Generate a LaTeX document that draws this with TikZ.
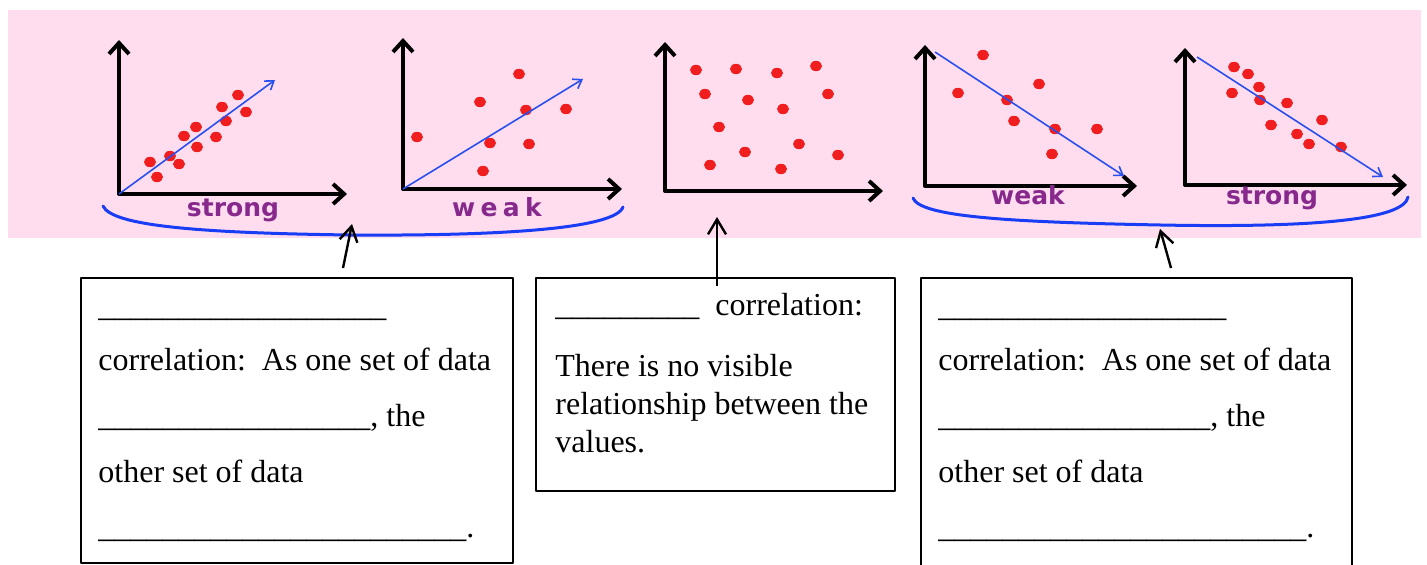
\documentclass[tikz,border=0pt]{standalone}
\usepackage{fontspec}
\setmainfont{Liberation Serif}
\newfontfamily\tagfont{DejaVu Sans}
\usetikzlibrary{arrows.meta}
\definecolor{sheetpink}{RGB}{255,221,238}
\definecolor{dotred}{RGB}{240,30,30}
\definecolor{trendblue}{RGB}{40,80,240}
\definecolor{bracketblue}{RGB}{25,60,245}
\definecolor{tagpurple}{RGB}{135,40,140}
\newcommand{\blanks}[1]{\foreach \k in {1,...,#1}{\_}}

\begin{document}
\begin{tikzpicture}[x=0.5pt, y=-0.5pt, line join=round,
    axis/.style={line width=2pt,
      {Straight Barb[length=5.5pt,width=10pt]}-{Straight Barb[length=5.5pt,width=10pt]}},
    trend/.style={trendblue, line width=0.8pt, -{Straight Barb[length=4pt,width=5.5pt]}},
    dot/.style={fill=dotred},
    bracket/.style={bracketblue, line width=1.5pt, line cap=round},
    pointer/.style={line width=1.2pt, -{Straight Barb[length=7.5pt,width=9pt]}},
    box/.style={draw, line width=1pt, anchor=north west, inner sep=0pt},
    txt/.style={anchor=base west, inner sep=0pt, font=\fontsize{16pt}{19pt}\selectfont},
    tag/.style={anchor=base, inner sep=0pt, text=tagpurple,
      font=\tagfont\bfseries\fontsize{12.5pt}{14pt}\selectfont}]
  \useasboundingbox (0,0) rectangle (1427,565);
  \clip (0,0) rectangle (1427,565);
  % pink strip with the five scatter plots
  \fill[sheetpink] (8,10) rectangle (1421,238);
  % positive, strong
  \draw[axis] (119,40) -- (119,194) -- (347,194);
  \foreach \p in {(238,95),(222,107),(246,112),(226,121),(196,127),(184,136),
                  (216,137),(197,147),(170,156),(150,162),(179,164),(157,177)}
    \fill[dot] \p ellipse [x radius=3pt, y radius=2.6pt];
  \draw[trend] (119,194) -- (275,80);
  \node[tag] (tstrong1) at (233,217) {strong};
  % positive, weak
  \draw[axis] (403,38) -- (403,189) -- (622,189);
  \foreach \p in {(519,74),(480,102),(526,110),(566,109),(417,137),(490,143),
                  (529,144),(483,171)}
    \fill[dot] \p ellipse [x radius=3pt, y radius=2.6pt];
  \draw[trend] (403,189) -- (583,79);
  \node[tag] (tweak1) at (497,217) {w\kern2.7pt e\kern2.7pt a\kern2.7pt k};
  % no correlation
  \draw[axis] (665,42) -- (665,191) -- (883,191);
  \foreach \p in {(696,70),(736,69),(777,73),(816,66),(705,94),(748,100),(783,109),
                  (828,94),(719,127),(799,144),(745,152),(838,155),(710,165),(781,169)}
    \fill[dot] \p ellipse [x radius=3pt, y radius=2.6pt];
  % negative, weak
  \draw[axis] (925,45) -- (925,186) -- (1137,186);
  \foreach \p in {(983,55),(958,93),(1039,84),(1007,100),(1014,121),(1055,129),
                  (1097,129),(1052,154)}
    \fill[dot] \p ellipse [x radius=3pt, y radius=2.6pt];
  \draw[trend] (935,52) -- (1124,176);
  \node[tag] (tweak2) at (1028,205) {weak};
  % negative, strong
  \draw[axis] (1185,48) -- (1185,185) -- (1407,185);
  \foreach \p in {(1234,67),(1248,74),(1259,87),(1232,93),(1260,100),(1287,103),
                  (1322,120),(1271,125),(1297,134),(1309,144),(1341,147)}
    \fill[dot] \p ellipse [x radius=3pt, y radius=2.6pt];
  \draw[trend] (1197,57) -- (1383,177);
  \node[tag] (tstrong2) at (1272,205) {strong};
  % brackets under the pairs
  \draw[bracket] (103,206) .. controls (112,226) and (200,233) .. (350,235)
    .. controls (500,236) and (615,229) .. (623,207);
  \draw[bracket] (913,198) .. controls (920,216) and (1000,222) .. (1160,225)
    .. controls (1320,228) and (1404,219) .. (1408,197);
  % answer boxes
  \node[box, minimum width=216pt, minimum height=142.5pt] (posbox) at (80,277) {};
  \node[box, minimum width=179.5pt, minimum height=106.5pt] (nonebox) at (535,277) {};
  \node[box, minimum width=215.5pt, minimum height=170pt] (negbox) at (920,277) {};
  % pointers
  \coordinate (posdip) at (352,224);
  \coordinate (posfoot) at (343,268);
  \coordinate (nonedip) at (717,217);
  \coordinate (nonefoot) at (717,286);
  \coordinate (negdip) at (1160,229);
  \coordinate (negfoot) at (1171,268);
  \draw[pointer] (posfoot) -- (posdip);
  \draw[pointer] (nonefoot) -- (nonedip);
  \draw[pointer] (negfoot) -- (negdip);
  % box texts
  \node[txt] (pos1) at (98,317) {\blanks{18}};
  \node[txt] (pos2) at (98,371) {correlation:\ \ As one set of data};
  \node[txt] (pos3) at (98,427) {\blanks{17}, the};
  \node[txt] (pos4) at (98,483) {other set of data};
  \node[txt] (pos5) at (98,538) {\blanks{23}.};
  \node[txt] (none1) at (555,316) {\blanks{9}\ \ correlation:};
  \node[txt] (none2) at (555,377) {There is no visible};
  \node[txt] (none3) at (555,415) {relationship between the};
  \node[txt] (none4) at (555,453) {values.};
  \node[txt] (neg1) at (938,317) {\blanks{18}};
  \node[txt] (neg2) at (938,371) {correlation:\ \ As one set of data};
  \node[txt] (neg3) at (938,427) {\blanks{17}, the};
  \node[txt] (neg4) at (938,483) {other set of data};
  \node[txt] (neg5) at (938,538) {\blanks{23}.};
\end{tikzpicture}
\end{document}
